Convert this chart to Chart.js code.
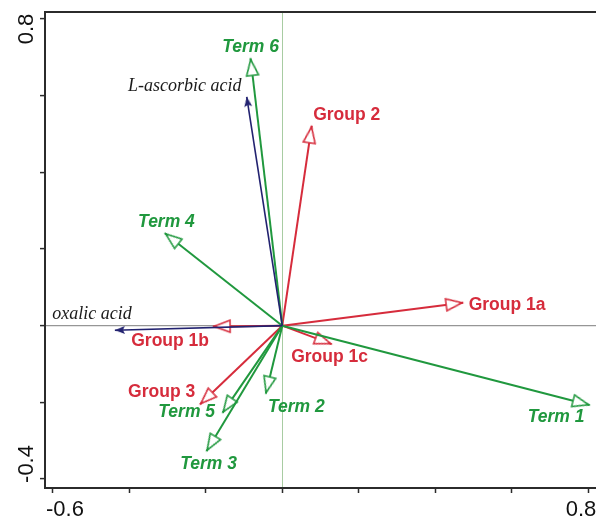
<!DOCTYPE html>
<html>
<head>
<meta charset="utf-8">
<script src="https://cdn.jsdelivr.net/npm/chart.js@4.4.0/dist/chart.umd.min.js"></script>
<style>
	html, body { margin: 0; padding: 0; background: #fff; overflow: hidden; }
	#wrap { width: 596px; height: 519px; overflow: hidden; position: relative; }
	#inner { width: 604px; height: 519px; position: relative; }
</style>
</head>
<body>
<div id="wrap"><div id="inner"><canvas id="biplot"></canvas></div></div>
<script>
// arrow end points, axis 1 / axis 2
const groupNames = ['Group 1a', 'Group 1b', 'Group 1c', 'Group 2', 'Group 3'];
const groupX = [0.473, -0.181, 0.129, 0.077, -0.215];
const groupY = [0.060, -0.002, -0.048, 0.521, -0.205];

const termNames = ['Term 1', 'Term 2', 'Term 3', 'Term 4', 'Term 5', 'Term 6'];
const termX = [0.804, -0.043, -0.198, -0.307, -0.156, -0.083];
const termY = [-0.207, -0.177, -0.327, 0.241, -0.227, 0.697];

const acidNames = ['L-ascorbic acid', 'oxalic acid'];
const acidX = [-0.093, -0.438];
const acidY = [0.597, -0.012];

const xTicks = [-0.6, -0.4, -0.2, 0, 0.2, 0.4, 0.6, 0.8];
const xTickLabels = ['-0.6', '', '', '', '', '', '', '0.8'];
const yTicks = [-0.4, -0.2, 0, 0.2, 0.4, 0.6, 0.8];
const yTickLabels = ['-0.4', '', '', '', '', '', '0.8'];

const RED = 'rgb(214, 44, 60)';
const GREEN = 'rgb(32, 152, 62)';
const NAVY = 'rgb(34, 34, 112)';
const AXIS = '#2b2b2b';

// where each name sits relative to its arrow tip (px, text centre / baseline)
const labelOffset = {
	'Group 1a': [44, 7.5],
	'Group 1b': [-43, 20],
	'Group 1c': [-2, 18],
	'Group 2': [35, -5.5],
	'Group 3': [-38.5, -7],
	'Term 1': [-33.5, 17],
	'Term 2': [30.5, 18.5],
	'Term 3': [2, 18],
	'Term 4': [1.5, -6.5],
	'Term 5': [-36, 4.5],
	'Term 6': [0, -6.5],
	'L-ascorbic acid': [-62, -6],
	'oxalic acid': [-23, -11.5],
};
const xLabelShift = { '-0.6': 12, '0.8': -7 };
const yLabelShift = { '-0.4': -15, '0.8': 10 };

// arrow head drawn pointing up, apex in the middle of the canvas
function makeHead(color, len, half, open) {
	const c = document.createElement('canvas');
	c.width = 2 * half + 6;
	c.height = 2 * len + 6;
	const g = c.getContext('2d');
	const cx = c.width / 2;
	const cy = c.height / 2 + (open ? 1 : 0);
	g.beginPath();
	g.moveTo(cx, cy);
	g.lineTo(cx - half, cy + len);
	if (!open) g.lineTo(cx, cy + len - 2);
	g.lineTo(cx + half, cy + len);
	g.closePath();
	if (open) {
		g.fillStyle = '#fff';
		g.fill();
		g.lineWidth = 1.6;
		g.lineJoin = 'miter';
		g.strokeStyle = color;
		g.stroke();
	} else {
		g.fillStyle = color;
		g.fill();
	}
	return c;
}

const redHead = makeHead(RED, 16, 6, true);
const greenHead = makeHead(GREEN, 16, 6, true);
const navyHead = makeHead(NAVY, 10, 4, false);

function headAngle(ctx) {
	const sx = ctx.chart.scales.x;
	const sy = ctx.chart.scales.y;
	const p = ctx.raw;
	if (!sx || !sy || !p) return 0;
	const dx = sx.getPixelForValue(p.x) - sx.getPixelForValue(0);
	const dy = sy.getPixelForValue(p.y) - sy.getPixelForValue(0);
	return Math.atan2(dx, -dy) * 180 / Math.PI;
}

function arrowSet(name, x, y, color, width, head, kind) {
	return {
		label: name,
		kind: kind,
		data: [{ x: 0, y: 0 }, { x: x, y: y }],
		showLine: true,
		borderColor: color,
		backgroundColor: color,
		borderWidth: width,
		pointRadius: [0, 6],
		pointStyle: head,
		pointRotation: headAngle,
	};
}

const datasets = [];
acidNames.forEach((n, i) => datasets.push(arrowSet(n, acidX[i], acidY[i], NAVY, 1.6, navyHead, 'acid')));
termNames.forEach((n, i) => datasets.push(arrowSet(n, termX[i], termY[i], GREEN, 2, greenHead, 'term')));
groupNames.forEach((n, i) => datasets.push(arrowSet(n, groupX[i], groupY[i], RED, 2, redHead, 'group')));

const labelFonts = {
	group: 'bold 17.5px "Liberation Sans", Arial, sans-serif',
	term: 'italic bold 17.5px "Liberation Sans", Arial, sans-serif',
	acid: 'italic 18px "Liberation Serif", "Times New Roman", serif',
};
const labelColors = { group: RED, term: GREEN, acid: '#1a1a1a' };

const biplotText = {
	id: 'biplotText',
	afterDraw(chart) {
		const { ctx, chartArea, scales: { x, y } } = chart;
		ctx.save();

		// top edge of the frame
		ctx.strokeStyle = AXIS;
		ctx.lineWidth = 2;
		ctx.beginPath();
		ctx.moveTo(chartArea.left - 1, chartArea.top);
		ctx.lineTo(chartArea.right, chartArea.top);
		ctx.stroke();

		// names at the arrow tips
		ctx.textAlign = 'center';
		ctx.textBaseline = 'alphabetic';
		chart.data.datasets.forEach((ds) => {
			const tip = ds.data[1];
			const off = labelOffset[ds.label];
			ctx.font = labelFonts[ds.kind];
			ctx.fillStyle = labelColors[ds.kind];
			ctx.fillText(ds.label, x.getPixelForValue(tip.x) + off[0], y.getPixelForValue(tip.y) + off[1]);
		});

		// axis numbers
		ctx.font = '22px "Liberation Sans", Arial, sans-serif';
		ctx.fillStyle = '#111';
		xTicks.forEach((v, i) => {
			const t = xTickLabels[i];
			if (!t) return;
			ctx.fillText(t, x.getPixelForValue(v) + xLabelShift[t], chartArea.bottom + 28);
		});
		yTicks.forEach((v, i) => {
			const t = yTickLabels[i];
			if (!t) return;
			ctx.save();
			ctx.translate(chartArea.left - 12, y.getPixelForValue(v) + yLabelShift[t]);
			ctx.rotate(-Math.PI / 2);
			ctx.fillText(t, 0, 0);
			ctx.restore();
		});
		ctx.restore();
	},
};

const ctx = document.getElementById('biplot').getContext('2d');
new Chart(ctx, {
	type: 'scatter',
	data: { datasets },
	options: {
		responsive: true,
		maintainAspectRatio: false,
		animation: false,
		events: [],
		layout: { padding: { left: 40, right: 0, top: 12, bottom: 26 } },
		plugins: { legend: { display: false }, tooltip: { enabled: false } },
		scales: {
			x: {
				type: 'linear',
				min: -0.6209,
				max: 0.8209,
				afterBuildTicks: (scale) => { scale.ticks = xTicks.map((v) => ({ value: v })); },
				ticks: { display: false },
				grid: {
					color: (c) => (c.tick && c.tick.value === 0 ? 'rgb(168, 204, 162)' : 'rgba(0,0,0,0)'),
					lineWidth: 1,
					drawTicks: true,
					tickLength: 5,
					tickColor: AXIS,
					tickWidth: 1.5,
				},
				border: { display: true, color: AXIS, width: 2 },
			},
			y: {
				type: 'linear',
				min: -0.4235,
				max: 0.8183,
				afterBuildTicks: (scale) => { scale.ticks = yTicks.map((v) => ({ value: v })); },
				ticks: { display: false },
				grid: {
					color: (c) => (c.tick && c.tick.value === 0 ? 'rgb(150, 150, 150)' : 'rgba(0,0,0,0)'),
					lineWidth: 1.2,
					drawTicks: true,
					tickLength: 5,
					tickColor: AXIS,
					tickWidth: 1.5,
				},
				border: { display: true, color: AXIS, width: 2 },
			},
		},
	},
	plugins: [biplotText],
});
</script>
</body>
</html>
